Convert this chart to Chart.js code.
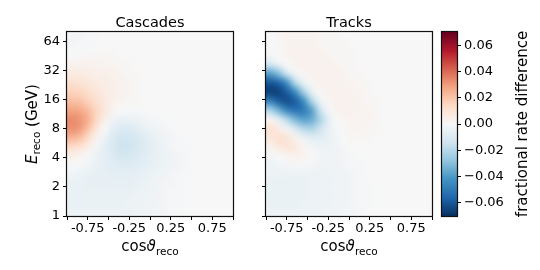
<!DOCTYPE html>
<html>
<head>
<meta charset="utf-8">
<script src="https://cdn.jsdelivr.net/npm/chart.js@4.4.0/dist/chart.umd.min.js"></script>
<style>
  body { margin: 0; background: #fff; }
  #wrap { position: relative; width: 540px; height: 270px; }
  #wrap canvas { position: absolute; left: 0; top: 0; }
</style>
</head>
<body>
<div id="wrap">
  <canvas id="cascades" width="540" height="270"></canvas>
  <canvas id="tracks" width="540" height="270"></canvas>
  <canvas id="cbar" width="540" height="270"></canvas>
</div>
<script>
// bin centres in cos(theta_reco), and log-spaced energy bin edges (GeV)
const cosCenters = [-0.95, -0.85, -0.75, -0.65, -0.55, -0.45, -0.35, -0.25, -0.15, -0.05,
                    0.05, 0.15, 0.25, 0.35, 0.45, 0.55, 0.65, 0.75, 0.85, 0.95];
const energyEdges = [1, 1.245, 1.550, 1.929, 2.402, 2.991, 3.723, 4.636, 5.771, 7.185, 8.944,
                     11.14, 13.86, 17.26, 21.49, 26.75, 33.30, 41.46, 51.61, 64.26, 80];

// fractional rate difference, in units of 1e-3, rows from highest energy (top) to lowest
const VALUE_UNIT = 0.001;
const cascadesGrid = [
  [-2,-2,-1,-1,0,0,0,0,0,0,0,0,0,0,0,0,0,0,0,0],
  [-2,-1,-1,0,0,0,0,0,0,0,0,0,0,0,0,0,0,0,0,0],
  [0,0,1,1,1,1,0,0,0,0,0,0,0,0,0,0,0,0,0,0],
  [3,3,3,3,2,2,1,1,0,0,0,0,0,0,0,0,0,0,0,0],
  [6,6,5,4,4,3,2,1,1,0,0,0,0,0,0,0,0,0,0,0],
  [11,10,8,6,5,4,3,2,1,0,0,0,0,0,0,0,0,0,0,0],
  [16,15,12,9,6,4,3,2,1,0,0,0,0,0,0,0,0,0,0,0],
  [21,20,16,12,7,4,2,1,1,0,0,0,0,0,0,0,0,0,0,0],
  [28,27,22,15,8,2,0,-1,-1,0,0,0,0,0,0,0,0,0,0,0],
  [33,31,25,15,5,-3,-5,-5,-4,-2,-1,-1,0,0,0,0,0,0,0,0],
  [32,30,21,9,0,-7,-10,-10,-8,-5,-3,-2,-1,0,0,0,0,0,0,0],
  [24,21,13,3,-4,-10,-13,-13,-11,-8,-5,-3,-2,-1,0,0,0,0,0,0],
  [13,11,5,-2,-7,-11,-15,-14,-12,-9,-6,-4,-2,-1,-1,0,0,0,0,0],
  [4,2,-1,-4,-7,-10,-12,-12,-10,-8,-6,-4,-3,-2,-1,0,0,0,0,0],
  [0,-1,-3,-5,-7,-8,-9,-9,-8,-7,-5,-4,-3,-2,-1,0,0,0,0,0],
  [-3,-4,-5,-6,-6,-7,-7,-7,-6,-5,-4,-3,-2,-1,-1,0,0,0,0,0],
  [-5,-5,-6,-6,-6,-6,-6,-6,-5,-4,-3,-2,-2,-1,0,0,0,0,0,0],
  [-5,-5,-5,-5,-5,-5,-5,-5,-4,-4,-3,-2,-1,-1,0,0,0,0,0,0],
  [-5,-5,-5,-5,-5,-5,-5,-4,-4,-3,-3,-2,-1,-1,0,0,0,0,0,0],
  [-4,-4,-4,-4,-4,-4,-4,-4,-3,-3,-2,-2,-1,-1,0,0,0,0,0,0]
];
const tracksGrid = [
  [0,1,2,2,2,2,1,1,1,0,0,0,0,0,0,0,0,0,0,0],
  [0,1,2,3,3,3,2,1,1,1,0,0,0,0,0,0,0,0,0,0],
  [-2,0,2,3,3,3,3,2,1,1,1,0,0,0,0,0,0,0,0,0],
  [-12,-5,0,2,3,3,3,3,2,1,1,0,0,0,0,0,0,0,0,0],
  [-38,-30,-14,-3,1,3,3,3,3,2,1,1,0,0,0,0,0,0,0,0],
  [-60,-56,-42,-20,-5,1,3,3,3,2,2,1,1,0,0,0,0,0,0,0],
  [-66,-65,-58,-44,-24,-6,1,3,3,3,2,2,1,0,0,0,0,0,0,0],
  [-48,-58,-62,-58,-44,-22,-4,1,3,3,3,2,1,1,0,0,0,0,0,0],
  [-22,-34,-46,-52,-50,-38,-16,-2,2,3,3,2,2,1,0,0,0,0,0,0],
  [2,-8,-20,-32,-38,-35,-22,-8,0,2,2,2,2,1,0,0,0,0,0,0],
  [10,6,-3,-12,-20,-22,-15,-6,-1,1,2,2,1,1,0,0,0,0,0,0],
  [8,11,9,3,-4,-8,-8,-5,-2,0,1,1,1,0,0,0,0,0,0,0],
  [3,7,9,7,2,-2,-4,-4,-3,-1,0,0,0,0,0,0,0,0,0,0],
  [-2,0,2,3,2,0,-2,-3,-3,-2,-1,0,0,0,0,0,0,0,0,0],
  [-4,-3,-2,-1,-1,-2,-3,-3,-3,-2,-1,-1,0,0,0,0,0,0,0,0],
  [-4,-4,-4,-4,-4,-4,-4,-4,-3,-3,-2,-1,0,0,0,0,0,0,0,0],
  [-5,-5,-5,-5,-5,-4,-4,-4,-3,-3,-2,-1,-1,0,0,0,0,0,0,0],
  [-5,-5,-5,-5,-5,-4,-4,-4,-3,-3,-2,-1,-1,0,0,0,0,0,0,0],
  [-5,-5,-5,-5,-4,-4,-4,-4,-3,-3,-2,-1,-1,0,0,0,0,0,0,0],
  [-4,-4,-4,-4,-4,-4,-4,-3,-3,-2,-2,-1,0,0,0,0,0,0,0,0]
];

// tick values
const xTicks = [-1, -0.75, -0.5, -0.25, 0, 0.25, 0.5, 0.75, 1];
const xTickLabelled = [-0.75, -0.25, 0.25, 0.75];
const yTicks = [1, 2, 4, 8, 16, 32, 64];
const cbarTicks = [-0.06, -0.04, -0.02, 0, 0.02, 0.04, 0.06];
const VMIN = -0.07, VMAX = 0.07;

// RdBu_r colormap stops
const RDBU_R = [[5,48,97],[33,102,172],[67,147,195],[146,197,222],[209,229,240],[247,247,247],
                [253,219,199],[244,165,130],[214,96,77],[178,24,43],[103,0,31]];

function colorFor(v) {
  let t = (v - VMIN) / (VMAX - VMIN);
  t = Math.min(1, Math.max(0, t));
  const p = t * 10;
  const i = Math.min(9, Math.floor(p));
  const f = p - i;
  return RDBU_R[i].map((c, k) => Math.round(c + (RDBU_R[i + 1][k] - c) * f));
}

const FONT = 'DejaVu Sans';
Chart.defaults.font.family = FONT;
Chart.defaults.color = '#000';

// draws a list of text runs [text, font, dy] centred at (x, y), rotated by angle
function drawRuns(ctx, runs, x, y, angle) {
  ctx.save();
  ctx.translate(x, y);
  ctx.rotate(angle);
  ctx.fillStyle = '#000';
  ctx.textBaseline = 'alphabetic';
  ctx.textAlign = 'left';
  let total = 0;
  runs.forEach(r => { ctx.font = r[1]; total += ctx.measureText(r[0]).width; });
  let cx = -total / 2;
  runs.forEach(r => {
    ctx.font = r[1];
    ctx.fillText(r[0], cx, r[2] || 0);
    cx += ctx.measureText(r[0]).width;
  });
  ctx.restore();
}

const heatmap = {
  id: 'heatmap',
  beforeDatasetsDraw(chart, args, opts) {
    if (!opts.grid) return;
    const grid = opts.grid;
    const { ctx, scales: { x, y } } = chart;
    const nr = grid.length, nc = grid[0].length;
    const off = document.createElement('canvas');
    off.width = nc; off.height = nr;
    const octx = off.getContext('2d');
    const img = octx.createImageData(nc, nr);
    grid.forEach((row, i) => row.forEach((v, j) => {
      const c = colorFor(v * VALUE_UNIT);
      const k = (i * nc + j) * 4;
      img.data[k] = c[0]; img.data[k + 1] = c[1]; img.data[k + 2] = c[2]; img.data[k + 3] = 255;
    }));
    octx.putImageData(img, 0, 0);
    const half = (cosCenters[1] - cosCenters[0]) / 2;
    const x0 = x.getPixelForValue(cosCenters[0] - half);
    const x1 = x.getPixelForValue(cosCenters[nc - 1] + half);
    const yTop = y.getPixelForValue(energyEdges[energyEdges.length - 1]);
    const yBot = y.getPixelForValue(energyEdges[0]);
    ctx.save();
    ctx.beginPath();
    ctx.rect(chart.chartArea.left, chart.chartArea.top, chart.chartArea.width, chart.chartArea.height);
    ctx.clip();
    ctx.imageSmoothingEnabled = true;
    ctx.imageSmoothingQuality = 'high';
    ctx.drawImage(off, x0, yTop, x1 - x0, yBot - yTop);
    ctx.restore();
  }
};

const cbarFill = {
  id: 'cbarFill',
  beforeDatasetsDraw(chart, args, opts) {
    if (!opts.on) return;
    const { ctx, chartArea: a, scales: { y } } = chart;
    const g = ctx.createLinearGradient(0, y.getPixelForValue(VMIN), 0, y.getPixelForValue(VMAX));
    RDBU_R.forEach((c, i) => g.addColorStop(i / 10, `rgb(${c[0]},${c[1]},${c[2]})`));
    ctx.save();
    ctx.fillStyle = g;
    ctx.fillRect(a.left, a.top, a.width, a.height);
    ctx.restore();
  }
};

const frameAndText = {
  id: 'frameAndText',
  afterDraw(chart, args, opts) {
    const { ctx, chartArea: a } = chart;
    ctx.save();
    ctx.strokeStyle = '#111';
    ctx.lineWidth = 1.2;
    ctx.strokeRect(Math.round(a.left) - 0.5, Math.round(a.top) - 0.5,
                   Math.round(a.width) + 1, Math.round(a.height) + 1);
    ctx.restore();
    const cx = (a.left + a.right) / 2, cy = (a.top + a.bottom) / 2;
    if (opts.title) drawRuns(ctx, [[opts.title, `14.5px "${FONT}"`]], cx, 26.5, 0);
    if (opts.xLabel) drawRuns(ctx, [['cos', `15px "${FONT}"`], ['\u03D1', `italic 15px "${FONT}"`],
                                    ['reco', `10.5px "${FONT}"`, 3.5]], cx, 251, 0);
    if (opts.yLabel) drawRuns(ctx, [['E', `italic 15px "${FONT}"`], ['reco', `10.5px "${FONT}"`, 3.5],
                                    [' (GeV)', `15px "${FONT}"`]], 36.5, cy, -Math.PI / 2);
    if (opts.cbarLabel) drawRuns(ctx, [[opts.cbarLabel, `15px "${FONT}"`]], 527, cy, -Math.PI / 2);
  }
};

function cellPoints(grid) {
  const pts = [];
  grid.forEach((row, i) => row.forEach((v, j) => {
    const r = grid.length - 1 - i;
    pts.push({ x: cosCenters[j], y: Math.sqrt(energyEdges[r] * energyEdges[r + 1]), v: v * VALUE_UNIT });
  }));
  return pts;
}

const tickFont = { family: FONT, size: 13 };
const axisGrid = { drawOnChartArea: false, drawTicks: true, tickLength: 4, color: '#000', lineWidth: 1 };

function panel(id, title, grid, showYLabels, padLeft, yWidth, padRight) {
  return new Chart(document.getElementById(id), {
    type: 'scatter',
    data: { datasets: [{ data: cellPoints(grid), pointRadius: 0, showLine: false }] },
    options: {
      responsive: false,
      animation: false,
      layout: { padding: { left: padLeft, right: padRight, top: 32, bottom: 0 } },
      plugins: {
        legend: { display: false },
        tooltip: { enabled: false },
        heatmap: { grid: grid },
        frameAndText: { title: title, xLabel: true, yLabel: showYLabels }
      },
      scales: {
        x: {
          type: 'linear', min: -1, max: 1,
          afterBuildTicks: s => { s.ticks = xTicks.map(v => ({ value: v })); },
          afterFit: s => { s.height = 54; },
          ticks: {
            font: tickFont, color: '#000', padding: 1, maxRotation: 0, autoSkip: false,
            callback: v => xTickLabelled.includes(v) ? String(v) : ''
          },
          grid: axisGrid,
          border: { display: false }
        },
        y: {
          type: 'logarithmic', min: 1, max: 80,
          afterBuildTicks: s => { s.ticks = yTicks.map(v => ({ value: v })); },
          afterFit: s => { s.width = yWidth; },
          ticks: {
            font: tickFont, color: '#000', padding: 3, autoSkip: false,
            callback: v => showYLabels ? String(v) : ''
          },
          grid: axisGrid,
          border: { display: false }
        }
      }
    },
    plugins: [heatmap, frameAndText]
  });
}

panel('cascades', 'Cascades', cascadesGrid, true, 0, 67, 307);
panel('tracks', 'Tracks', tracksGrid, false, 246, 20, 108);

new Chart(document.getElementById('cbar'), {
  type: 'scatter',
  data: { datasets: [{ data: cbarTicks.map(v => ({ x: 0, y: v })), pointRadius: 0 }] },
  options: {
    responsive: false,
    animation: false,
    layout: { padding: { left: 442, right: 23, top: 32, bottom: 54 } },
    plugins: {
      legend: { display: false },
      tooltip: { enabled: false },
      cbarFill: { on: true },
      frameAndText: { cbarLabel: 'fractional rate difference' }
    },
    scales: {
      x: { display: false, min: -1, max: 1 },
      y: {
        position: 'right', min: VMIN, max: VMAX,
        afterBuildTicks: s => { s.ticks = cbarTicks.map(v => ({ value: v })); },
        afterFit: s => { s.width = 60; },
        ticks: {
          font: tickFont, color: '#000', padding: 3, autoSkip: false,
          callback: v => (v < -1e-9 ? '\u2212' : '') + Math.abs(v).toFixed(2)
        },
        grid: axisGrid,
        border: { display: false }
      }
    }
  },
  plugins: [cbarFill, frameAndText]
});
</script>
</body>
</html>
